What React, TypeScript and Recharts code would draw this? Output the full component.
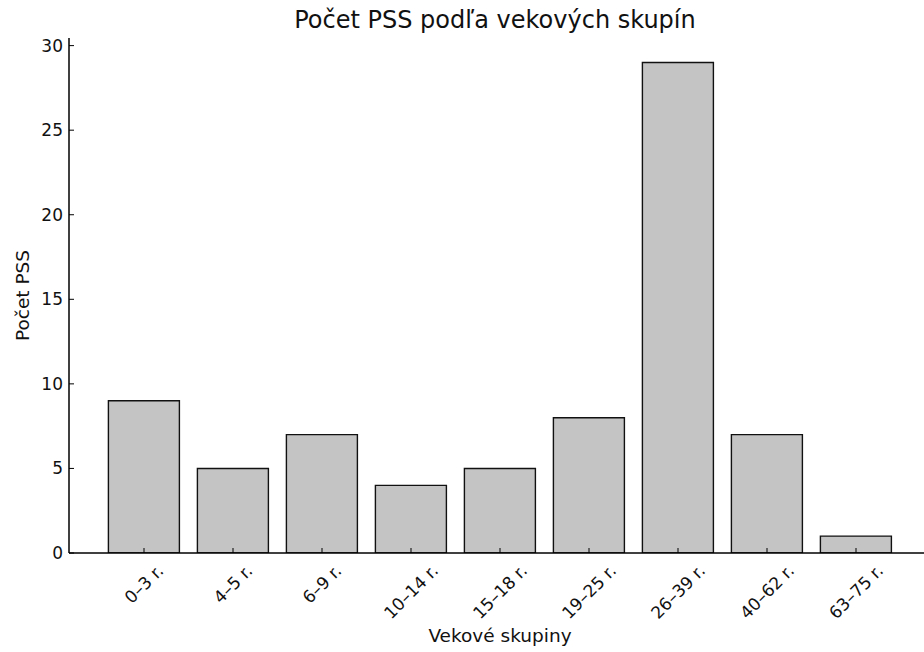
import { BarChart, Bar, XAxis, YAxis } from 'recharts';

const ageGroups = ['0–3 r.', '4–5 r.', '6–9 r.', '10–14 r.', '15–18 r.', '19–25 r.', '26–39 r.', '40–62 r.', '63–75 r.'];
const pssCounts = [9, 5, 7, 4, 5, 8, 29, 7, 1];
const yTicks = [0, 5, 10, 15, 20, 25, 30];

const FONT = '"DejaVu Sans", sans-serif';

// rough DejaVu Sans advance widths (em) for the label characters
const charWidth = (c: string) => {
  if (/[0-9]/.test(c)) return 0.636;
  if (c === '–') return 0.5;
  if (c === 'r') return 0.411;
  return 0.318;
};

function XTick({ x, y, payload }: any) {
  const size = 17;
  const w = [...String(payload.value)].reduce((s, c) => s + charWidth(c), 0) * size;
  const half = ((w + size) * Math.SQRT1_2) / 2;
  const cy = y + 8 + half;
  return (
    <g>
      <line x1={x} y1={y} x2={x} y2={y - 5} stroke="#000" strokeWidth={1} />
      <text
        x={x}
        y={cy}
        textAnchor="middle"
        dominantBaseline="central"
        transform={`rotate(-45, ${x}, ${cy})`}
        fontSize={size}
        fontFamily={FONT}
        fill="#111"
      >
        {payload.value}
      </text>
    </g>
  );
}

function YTick({ x, y, payload }: any) {
  return (
    <g>
      <line x1={x} y1={y} x2={x + 5} y2={y} stroke="#000" strokeWidth={1} />
      <text x={x - 6} y={y} textAnchor="end" dominantBaseline="central" fontSize={17} fontFamily={FONT} fill="#111">
        {payload.value}
      </text>
    </g>
  );
}

export default function App() {
  const data = ageGroups.map((group, i) => ({ group, count: pssCounts[i] }));

  return (
    <div style={{ position: 'absolute', left: 0, top: 0, width: 924, height: 652, overflow: 'hidden', background: '#fff', fontFamily: FONT }}>
      <div style={{ position: 'absolute', left: 0, width: 990, top: 6, textAlign: 'center', fontSize: 24, color: '#111' }}>
        Počet PSS podľa vekových skupín
      </div>
      <BarChart width={940} height={652} data={data} margin={{ top: 38, right: 9, bottom: 0, left: 0 }} barCategoryGap="10%">
        <XAxis
          dataKey="group"
          height={99}
          padding={{ left: 30.5, right: 30.5 }}
          tickSize={0}
          tickMargin={0}
          tick={<XTick />}
          interval={0}
          stroke="#000"
          strokeWidth={1.5}
          label={{
            content: ({ viewBox }: any) => (
              <text x={viewBox.x + viewBox.width / 2} y={642} textAnchor="middle" fontSize={18.5} fontFamily={FONT} fill="#111">
                Vekové skupiny
              </text>
            ),
          }}
        />
        <YAxis
          width={69}
          domain={[0, 30.45]}
          ticks={yTicks}
          allowDataOverflow
          tickSize={0}
          tickMargin={0}
          tick={<YTick />}
          stroke="#000"
          strokeWidth={1.5}
          label={{
            content: ({ viewBox }: any) => {
              const cy = viewBox.y + viewBox.height / 2;
              return (
                <text x={29} y={cy} textAnchor="middle" transform={`rotate(-90, 29, ${cy})`} fontSize={18.5} fontFamily={FONT} fill="#111">
                  Počet PSS
                </text>
              );
            },
          }}
        />
        <Bar dataKey="count" fill="#c4c4c4" stroke="#111" strokeWidth={1.4} isAnimationActive={false} />
      </BarChart>
    </div>
  );
}
